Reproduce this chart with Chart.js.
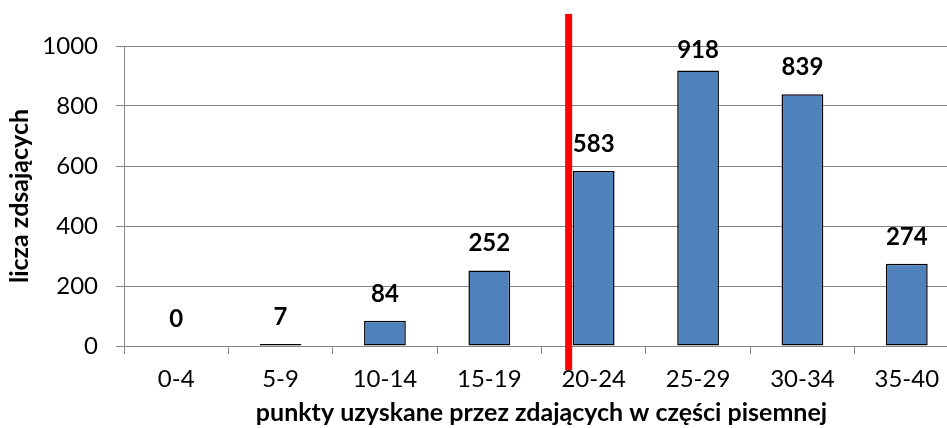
<!DOCTYPE html>
<html><head><meta charset="utf-8">
<script src="https://cdn.jsdelivr.net/npm/chart.js@4/dist/chart.umd.min.js"></script>
<style>
html,body{margin:0;padding:0;background:#fff;overflow:hidden;}
#wrap{width:947px;height:428px;overflow:hidden;position:relative;}
#box{width:964px;height:428px;position:absolute;left:0;top:0;}
</style></head><body>
<div id="wrap"><div id="box"><canvas id="c"></canvas></div></div>
<script>
const categories = ["0-4","5-9","10-14","15-19","20-24","25-29","30-34","35-40"];
const counts = [0,7,84,252,583,918,839,274];
const yTicks = [0,200,400,600,800,1000];
const xTitle = "punkty uzyskane przez zdających w części pisemnej";
const yTitle = "licza zdsających";
const thresholdIndex = 3.76;   // position of red marker between categories
const thresholdTop = 1107;      // value-axis height where red marker starts

const FONT = "Lato, 'Liberation Sans', sans-serif";

const labelPlugin = {
  id: 'valLabels',
  afterDatasetsDraw(chart) {
    const ctx = chart.ctx;
    const meta = chart.getDatasetMeta(0);
    const minY = chart.chartArea.top + 4;
    ctx.save();
    ctx.font = "bold 24px " + FONT;
    ctx.fillStyle = "#000";
    ctx.textAlign = "center";
    ctx.textBaseline = "middle";
    meta.data.forEach((bar, i) => {
      ctx.fillText(String(counts[i]), bar.x, Math.max(bar.y - 27, minY));
    });
    ctx.restore();
  }
};

const redLine = {
  id: 'redLine',
  afterDraw(chart) {
    const ctx = chart.ctx;
    const xs = chart.scales.x, ys = chart.scales.y;
    const x = xs.getPixelForValue(thresholdIndex);
    ctx.save();
    ctx.fillStyle = "#FF0000";
    const top = ys.getPixelForValue(thresholdTop);
    const bottom = ys.getPixelForValue(0) + 24;
    ctx.fillRect(x - 3.5, top, 7, bottom - top);
    ctx.restore();
  }
};

new Chart(document.getElementById('c'), {
  type: 'bar',
  data: {
    labels: categories,
    datasets: [{
      data: counts,
      backgroundColor: "#4F81BD",
      borderColor: "#000000",
      borderWidth: 1.5,
      borderSkipped: false,
      barPercentage: 0.4,
      categoryPercentage: 1.0
    }]
  },
  options: {
    responsive: true,
    maintainAspectRatio: false,
    animation: false,
    layout: { padding: { top: 46, right: 5, left: 0, bottom: 0 } },
    plugins: { legend: { display: false }, tooltip: { enabled: false } },
    scales: {
      x: {
        offset: true,
        afterFit(scale) { scale.height = 82; },
        grid: { display: true, drawOnChartArea: false, offset: true, color: "#868686", tickLength: 8, lineWidth: 1 },
        border: { display: true, color: "#868686", width: 1 },
        ticks: { color: "#000", font: { family: FONT, size: 24 }, padding: 11 },
        title: { display: true, text: xTitle, color: "#000", font: { family: FONT, size: 25, weight: 700 }, padding: { top: 0, bottom: 0 } }
      },
      y: {
        min: 0, max: 1000,
        afterFit(scale) { scale.width = 124; },
        afterBuildTicks(scale) { scale.ticks = yTicks.map(v => ({ value: v })); },
        grid: { color: "#868686", tickLength: 8, lineWidth: 1 },
        border: { display: true, color: "#868686", width: 1 },
        ticks: { color: "#000", font: { family: FONT, size: 24 }, padding: 18, callback: (v) => String(v) },
        title: { display: true, text: yTitle, color: "#000", font: { family: FONT, size: 25, weight: 700 }, padding: { top: 5, bottom: 0 } }
      }
    }
  },
  plugins: [labelPlugin, redLine]
});
</script>
</body></html>
